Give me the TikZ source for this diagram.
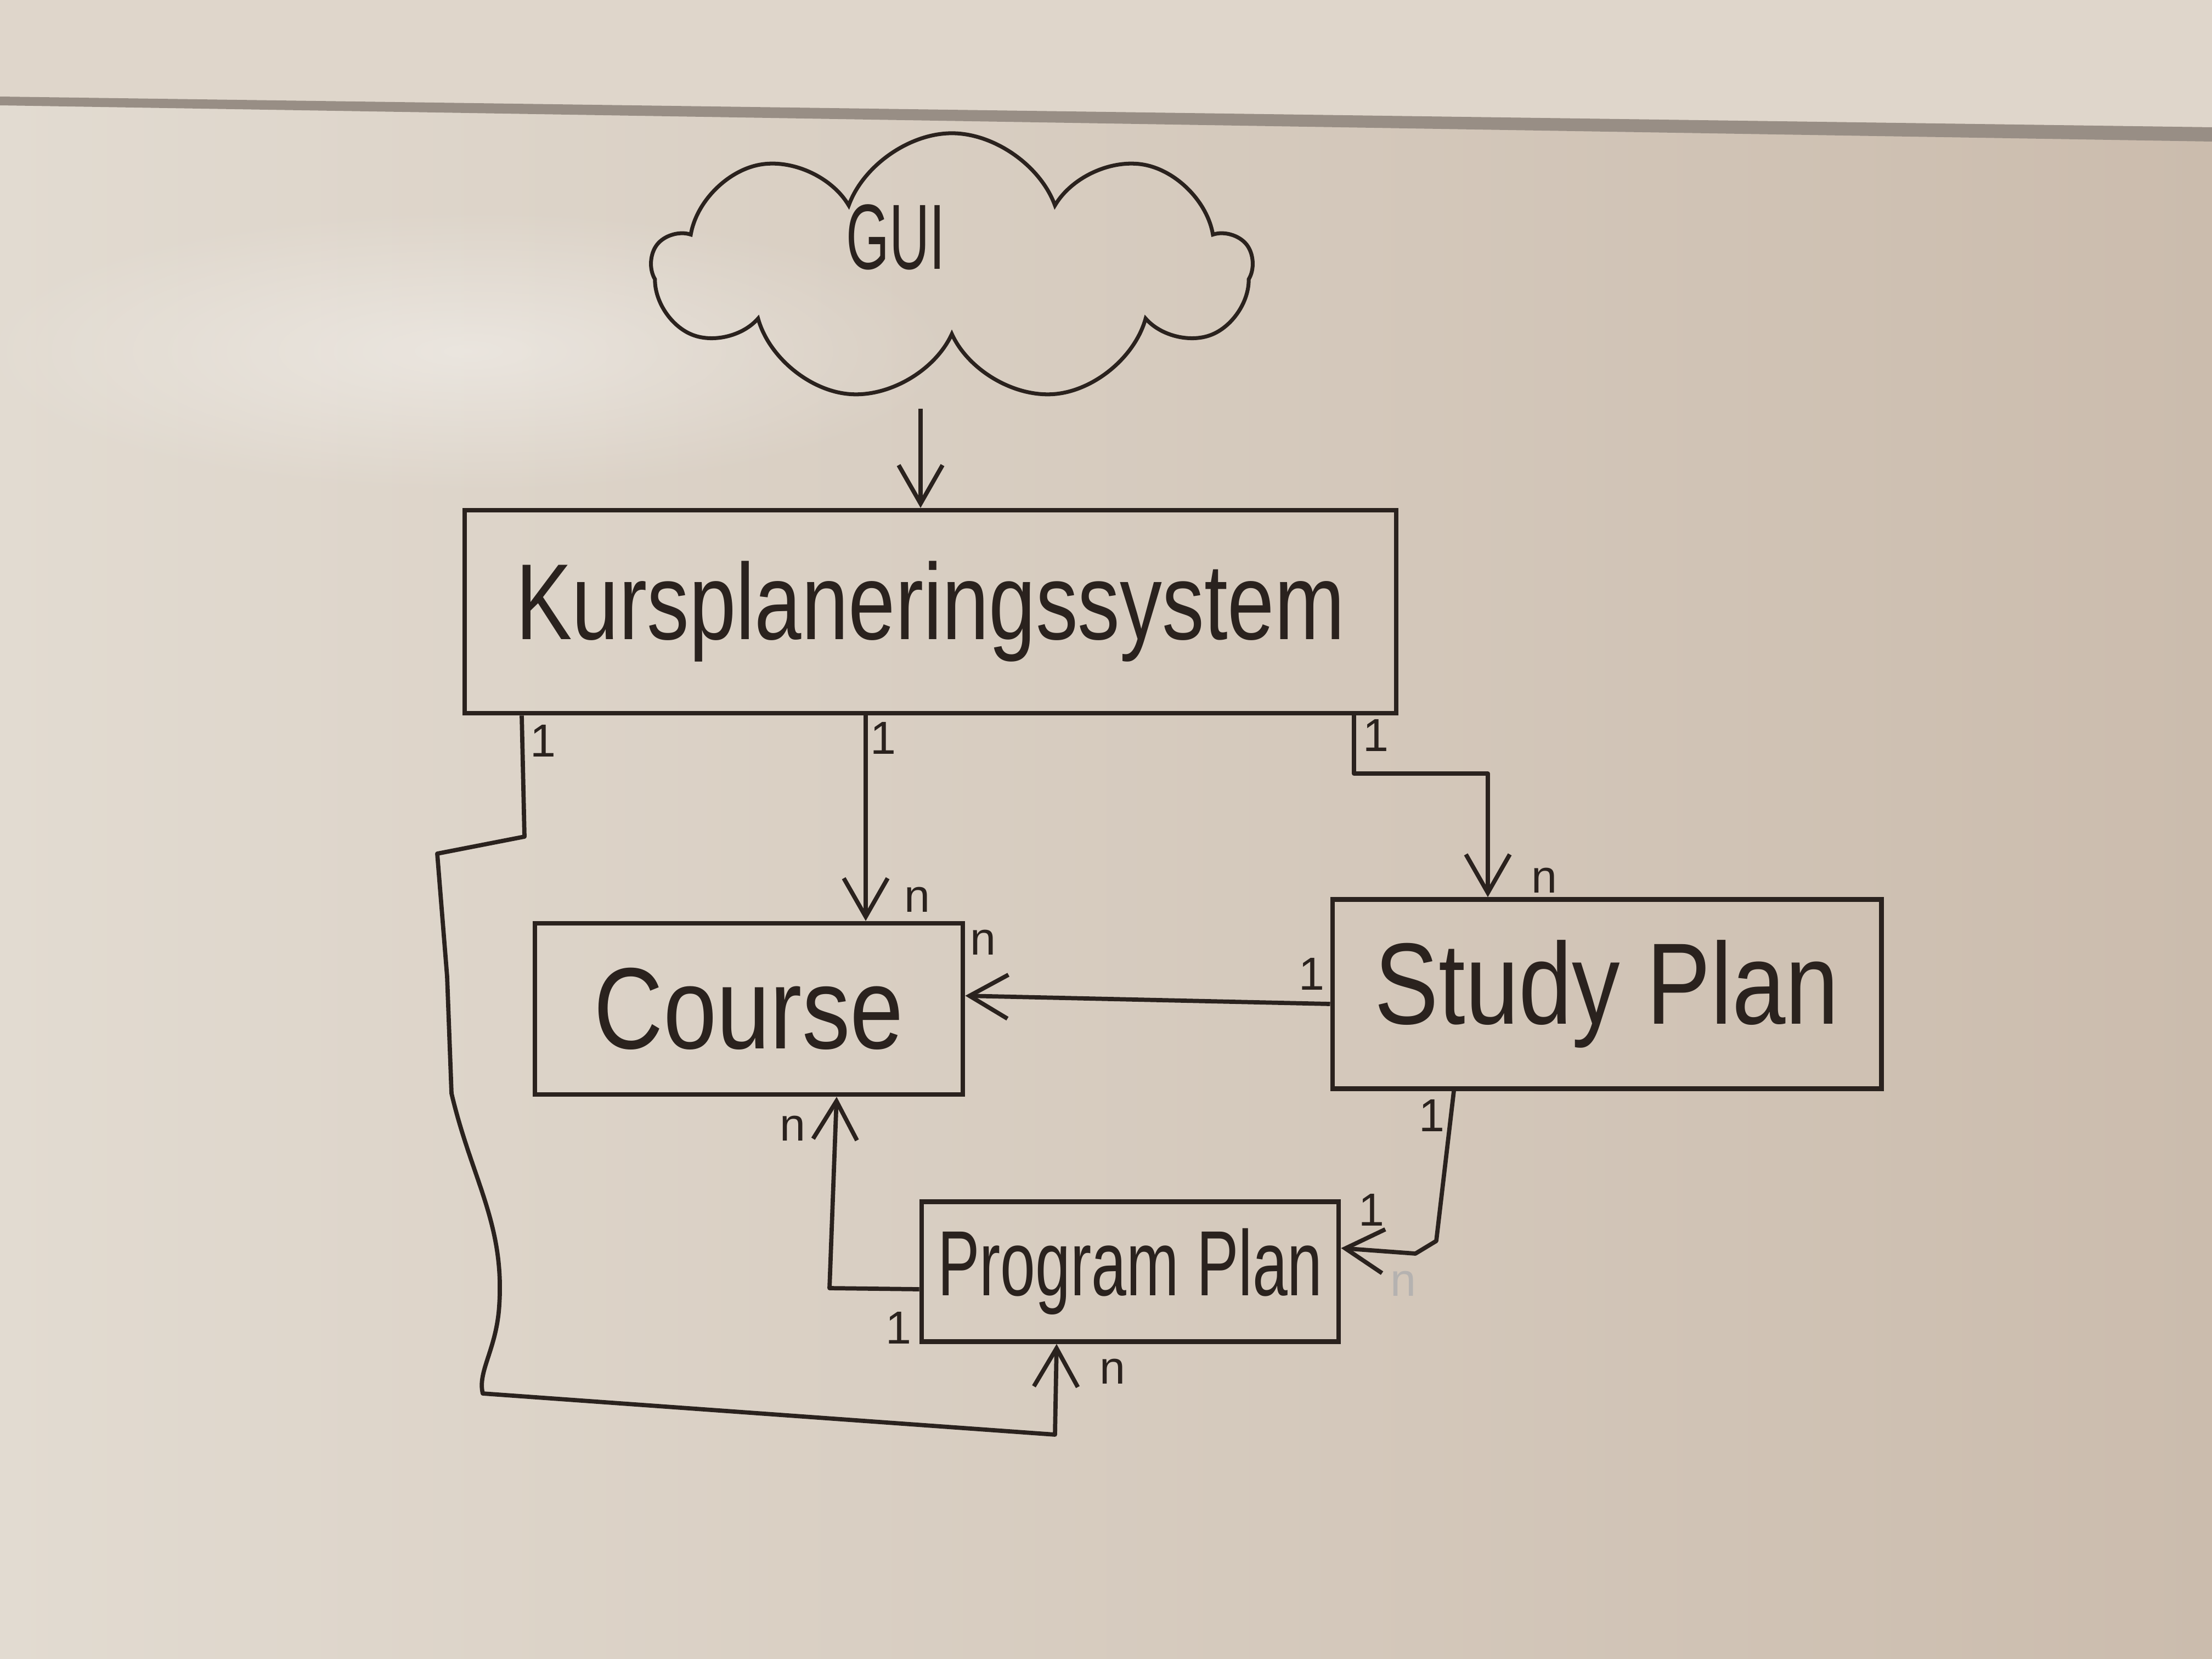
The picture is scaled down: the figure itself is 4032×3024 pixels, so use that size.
\documentclass[tikz,border=0pt]{standalone}
\usepackage{fontspec}
\setmainfont{Liberation Sans}
\usepackage{graphicx}
\usetikzlibrary{shapes.symbols,arrows.meta,fadings}

\definecolor{ink}{RGB}{42,34,30}
\definecolor{wall}{RGB}{223,214,203}
\definecolor{rim}{RGB}{152,142,133}
\definecolor{boardL}{RGB}{226,219,209}
\definecolor{boardR}{RGB}{203,188,173}

\newcommand{\hand}[2]{\scalebox{#1}[1]{#2}}

\tikzfading[name=glare, inner color=transparent!0, outer color=transparent!100]

\tikzset{
  entity/.style={draw=ink, text=ink, line width=2.4pt, rectangle, inner sep=0pt},
  assoc/.style={draw=ink, line width=2.2pt, line join=round, -{Straight Barb[length=7mm,width=8mm]}},
  mult/.style={text=ink, font=\fontsize{24}{24}\selectfont, inner sep=0pt},
}

\begin{document}
\begin{tikzpicture}[x=0.01cm, y=-0.01cm]
  \useasboundingbox (0,0) rectangle (4032,3024);
  % whiteboard and wall
  \shade[left color=boardL, right color=boardR] (0,0) rectangle (4032,3024);
  \fill[white, opacity=0.4, path fading=glare] (850,640) ellipse (900 and 260);
  \fill[wall] (0,0) -- (4032,0) -- (4032,232) -- (0,176) -- cycle;
  \fill[rim] (0,176) -- (4032,232) -- (4032,258) -- (0,192) -- cycle;

  % boxes
  \node[cloud, cloud puffs=9, cloud puff arc=140, aspect=2.2, draw=ink, line width=2pt,
        minimum width=10.9cm, minimum height=4.9cm] (gui) at (1735,488) {};
  \node[text=ink, font=\fontsize{48}{48}\selectfont] (guilbl) at (1633,432) {\hand{0.6}{GUI}};
  \node[entity, minimum width=16.97cm, minimum height=3.7cm, font=\fontsize{56}{56}\selectfont]
        (kurs) at (1696,1115) {\hand{0.78}{Kursplaneringssystem}};
  \node[entity, minimum width=7.8cm, minimum height=3.12cm, font=\fontsize{60}{60}\selectfont]
        (course) at (1365,1839) {\hand{0.83}{Course}};
  \node[entity, minimum width=10cm, minimum height=3.45cm, font=\fontsize{60}{60}\selectfont]
        (study) at (2929,1812) {\hand{0.83}{Study Plan}};
  \node[entity, minimum width=7.6cm, minimum height=2.55cm, font=\fontsize{48}{48}\selectfont]
        (program) at (2060,2318) {\hand{0.68}{Program Plan}};

  % associations
  \coordinate (guiout) at (1678,745);
  \draw[assoc] (guiout) -- (guiout |- kurs.north);
  \draw[assoc] (kurs.south -| 1578,0) -- (course.north -| 1578,0);
  \draw[assoc] (kurs.south -| 2468,0) |- (2712,1410) -- (study.north -| 2712,0);
  \draw[assoc] (study.west |- 0,1830) -- (course.east |- 0,1815);
  \draw[assoc] (kurs.south -| 951,0) -- (956,1525) -- (797,1556) -- (815,1780) -- (823,1993)
        .. controls (860,2150) and (920,2230) .. (910,2380)
        .. controls (905,2460) and (870,2500) .. (880,2540)
        -- (1923,2615) -- (program.south -| 1926,0);
  \draw[assoc] (program.west |- 0,2350) -- (1512,2348) -- (course.south -| 1525,0);
  \draw[assoc] (study.south -| 2650,0) -- (2618,2262) -- (2580,2285) -- (program.east |- 0,2275);

  % multiplicities
  \node[mult] (kc1) at (1610,1345) {1};
  \node[mult] (kcn) at (1672,1640) {n};
  \node[mult] (ks1) at (2508,1340) {1};
  \node[mult] (ksn) at (2815,1605) {n};
  \node[mult] (sc1) at (2391,1775) {1};
  \node[mult] (scn) at (1792,1718) {n};
  \node[mult] (kp1) at (990,1350) {1};
  \node[mult] (kpn) at (2028,2500) {n};
  \node[mult] (pcn) at (1445,2057) {n};
  \node[mult] (pc1) at (1638,2420) {1};
  \node[mult] (sp1) at (2610,2033) {1};
  \node[mult] (sp2) at (2500,2205) {1};
  \node[mult, text=ink!35] (spn) at (2558,2340) {n};
\end{tikzpicture}
\end{document}
